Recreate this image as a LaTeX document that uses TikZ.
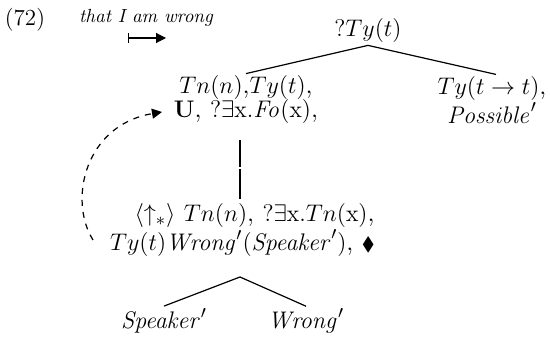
\documentclass[tikz,border=0pt]{standalone}
\usepackage{amsmath,amssymb}
\usetikzlibrary{arrows.meta,positioning,calc}

\begin{document}
\begin{tikzpicture}[x=0.5pt,y=-0.5pt,
  tnode/.style={align=center,inner sep=1pt,font=\fontsize{12.8}{12}\selectfont},
  branch/.style={line width=0.6pt},
  link/.style={dashed,line width=0.6pt,-{Triangle[length=5pt,width=5pt]}}
]
\useasboundingbox (0,0) rectangle (550,340);
\node[font=\fontsize{11.5}{12}\selectfont] (exnum) at (25,20) {(72)};
\node[font=\fontsize{9.5}{10}\selectfont\itshape,anchor=west] (gloss) at (72,18) {that I am wrong};
\coordinate (mapa) at (128,38);
\coordinate (mapb) at (166,38);
\draw[line width=0.6pt,{Bar[width=5pt]}-{Triangle[length=5pt,width=5pt]}] (mapa) -- (mapb);

\node[tnode] (root) at (368,31) {$?Ty(t)$};
\node[tnode] (left) at (246,100) {$Tn(n)$,$Ty(t)$,\\$\mathbf{U}$, $?\exists\mathrm{x}.\mathit{Fo}(\mathrm{x})$,};
\node[tnode] (right) at (492,100) {$Ty(t\rightarrow t)$,\\$\mathit{Possible}'$};
\node[tnode,align=right,anchor=east] (lower) at (377,230)
  {$\langle\uparrow_{*}\rangle\ Tn(n)$, $?\exists\mathrm{x}.Tn(\mathrm{x})$,\\$Ty(t)\mathit{Wrong}'(\mathit{Speaker}')$, \scalebox{0.75}{$\blacklozenge$}};
\node[tnode] (spk) at (164,321) {$\mathit{Speaker}'$};
\node[tnode] (wrg) at (306,321) {$\mathit{Wrong}'$};

\draw[branch] (root.south) -- (left.north);
\draw[branch] (root.south) -- ([xshift=2pt]right.north);

\coordinate (gapa) at (240,167);
\coordinate (gapb) at (240,169);
\draw[branch,shorten <=7pt] (left.south -| gapa) -- (gapa);
\draw[branch,shorten >=1pt] (gapb) -- (lower.north -| gapb);

\coordinate (apex) at (240,277);
\draw[branch] (apex) -- (spk.north);
\draw[branch] (apex) -- (wrg.north);

\coordinate (dstart) at (93,240);
\coordinate (dend) at (162,112);
\draw[link] (dstart) .. controls (68,200) and (85,125) .. (dend);
\end{tikzpicture}
\end{document}
